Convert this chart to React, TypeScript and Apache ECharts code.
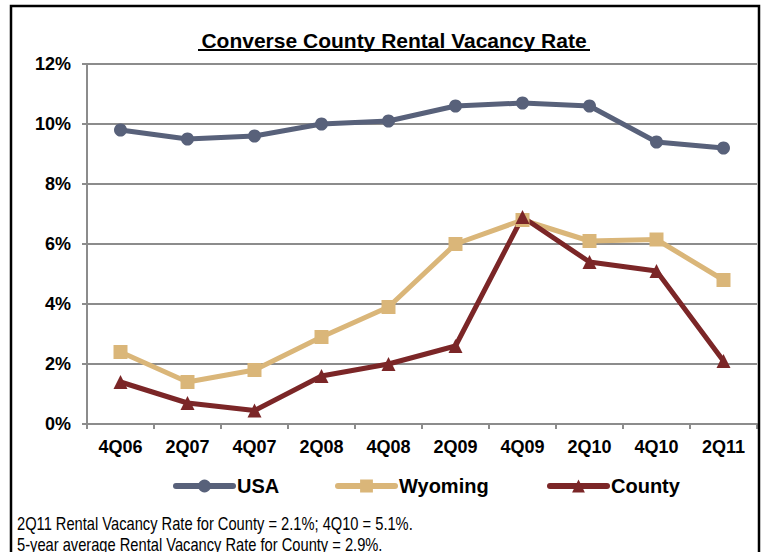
import React, { useEffect, useRef } from "react";
import * as echarts from "echarts";

const categories = ["4Q06", "2Q07", "4Q07", "2Q08", "4Q08", "2Q09", "4Q09", "2Q10", "4Q10", "2Q11"];
const usa = [9.8, 9.5, 9.6, 10.0, 10.1, 10.6, 10.7, 10.6, 9.4, 9.2];
const wyoming = [2.4, 1.4, 1.8, 2.9, 3.9, 6.0, 6.8, 6.1, 6.15, 4.8];
const county = [1.4, 0.7, 0.45, 1.6, 2.0, 2.6, 6.9, 5.4, 5.1, 2.1];
const yTicks = { min: 0, max: 12, interval: 2 };
const titleText = "Converse County Rental Vacancy Rate";
const noteLines = [
  "2Q11 Rental Vacancy Rate for County = 2.1%; 4Q10 = 5.1%.",
  "5-year average Rental Vacancy Rate for County = 2.9%.",
];

const FONT = "'Liberation Sans', Arial, sans-serif";
const C_USA = "#58617a";
const C_WY = "#dab679";
const C_CO = "#7b2627";
const GRID = "#8c8c8c";

export default function App() {
  const ref = useRef<HTMLDivElement>(null);
  useEffect(() => {
    const chart = echarts.init(ref.current!, null, { renderer: "svg" });
    const legendBase = {
      top: 476,
      padding: 0,
      itemWidth: 57,
      itemHeight: 16,
      itemGap: 4,
      lineStyle: { width: 6, cap: "round" },
      textStyle: { fontFamily: FONT, fontSize: 20, fontWeight: "bold", color: "#000", padding: [0, 0, 0, -1] },
    };
    chart.setOption({
      animation: false,
      backgroundColor: "#fff",
      grid: { left: 87, right: 7, top: 64, bottom: 128, containLabel: false },
      xAxis: {
        type: "category",
        data: categories,
        boundaryGap: true,
        axisLine: { lineStyle: { color: GRID, width: 2 } },
        axisTick: { show: true, length: 5, lineStyle: { color: GRID, width: 2 } },
        axisLabel: { margin: 14, fontFamily: FONT, fontSize: 18, fontWeight: "bold", color: "#000" },
      },
      yAxis: {
        type: "value",
        min: yTicks.min,
        max: yTicks.max,
        interval: yTicks.interval,
        axisLine: { show: true, lineStyle: { color: GRID, width: 2 } },
        axisTick: { show: true, length: 5, lineStyle: { color: GRID, width: 2 } },
        splitLine: { show: true, lineStyle: { color: GRID, width: 2 } },
        axisLabel: {
          margin: 16,
          formatter: "{value}%",
          fontFamily: FONT,
          fontSize: 18,
          fontWeight: "bold",
          color: "#000",
        },
      },
      legend: [
        { ...legendBase, left: 173, data: ["USA"] },
        { ...legendBase, left: 335, data: ["Wyoming"] },
        { ...legendBase, left: 547, data: ["County"] },
      ],
      series: [
        {
          name: "USA",
          type: "line",
          data: usa,
          symbol: "circle",
          symbolSize: 13,
          lineStyle: { color: C_USA, width: 5 },
          itemStyle: { color: C_USA },
        },
        {
          name: "Wyoming",
          type: "line",
          data: wyoming,
          symbol: "rect",
          symbolSize: 14,
          lineStyle: { color: C_WY, width: 5 },
          itemStyle: { color: C_WY },
        },
        {
          name: "County",
          type: "line",
          data: county,
          symbol: "triangle",
          symbolSize: 14,
          lineStyle: { color: C_CO, width: 5 },
          itemStyle: { color: C_CO },
        },
      ],
      graphic: [
        {
          type: "rect",
          shape: { x: 11, y: 6, width: 748, height: 600 },
          style: { fill: "none", stroke: "#000", lineWidth: 2.5 },
          silent: true,
          z: 100,
        },
        {
          type: "text",
          x: 394,
          y: 40,
          style: {
            text: titleText,
            fontFamily: FONT,
            fontSize: 21,
            fontWeight: "bold",
            fill: "#000",
            textAlign: "center",
            textVerticalAlign: "middle",
          },
        },
        {
          type: "line",
          shape: { x1: 198, y1: 50, x2: 590, y2: 50 },
          style: { stroke: "#000", lineWidth: 2 },
        },
        {
          type: "text",
          x: 17,
          y: 523,
          scaleX: 0.816,
          style: {
            text: noteLines[0],
            fontFamily: FONT,
            fontSize: 18,
            fill: "#000",
            textAlign: "left",
            textVerticalAlign: "middle",
          },
        },
        {
          type: "text",
          x: 17,
          y: 544,
          scaleX: 0.816,
          style: {
            text: noteLines[1],
            fontFamily: FONT,
            fontSize: 18,
            fill: "#000",
            textAlign: "left",
            textVerticalAlign: "middle",
          },
        },
      ],
    });
    return () => chart.dispose();
  }, []);
  return (
    <div
      ref={ref}
      style={{ position: "absolute", left: 0, top: 0, width: 764, height: 552 }}
    />
  );
}
